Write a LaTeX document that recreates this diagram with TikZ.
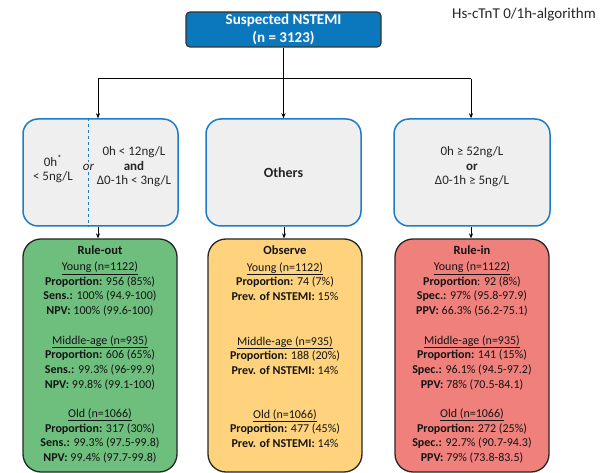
\documentclass[tikz,border=0pt]{standalone}
\usepackage{fontspec}
\setmainfont{Carlito}
\usetikzlibrary{arrows.meta,calc}
\definecolor{topblue}{RGB}{11,120,189}
\definecolor{critblue}{RGB}{28,124,199}
\definecolor{critfill}{RGB}{239,239,239}
\definecolor{outgreen}{RGB}{110,191,125}
\definecolor{obsyellow}{RGB}{255,211,125}
\definecolor{inred}{RGB}{240,128,123}
\definecolor{txt}{RGB}{20,20,20}
\begin{document}
\begin{tikzpicture}[x=1pt,y=-1pt,
  topbox/.style={draw=black!80, line width=1.2pt, fill=topblue, rounded corners=4pt,
    text=white, font=\fontsize{15}{18}\selectfont\bfseries, align=center, inner sep=0pt},
  critbox/.style={draw=critblue, line width=1.5pt, fill=critfill, rounded corners=15pt, inner sep=0pt},
  resbox/.style={draw=black!85, line width=1.3pt, rounded corners=18pt, inner sep=0pt},
  crittext/.style={text=black!85, font=\fontsize{13}{14.5}\selectfont, align=center, inner sep=0pt},
  grp/.style={text=txt, font=\fontsize{12}{14.7}\selectfont, align=center, inner sep=0pt},
  hdr/.style={text=txt, font=\fontsize{12.5}{14}\selectfont\bfseries, inner sep=0pt},
  arr/.style={-{Stealth[length=5pt,width=4pt]}, line width=0.6pt, black},
  conn/.style={line width=0.6pt, black}]
\useasboundingbox (0,0) rectangle (611,473);

% top
\node[topbox, minimum width=195pt, minimum height=35pt] (top) at (283.5,29.5) {Suspected NSTEMI\\(n = 3123)};
\node[anchor=west, text=black!85, font=\fontsize{15}{17}\selectfont, inner sep=0pt] (title) at (452,15) {Hs-cTnT 0/1h-algorithm};

% criteria boxes
\node[critbox, minimum width=155pt, minimum height=107pt] (c1) at (100.5,172.5) {};
\node[critbox, minimum width=155pt, minimum height=107pt] (c2) at (283.5,172.5) {};
\node[critbox, minimum width=156pt, minimum height=107pt] (c3) at (472,172.5) {};

\draw[critblue, dashed, line width=0.8pt] ($(c1.north west)!0.42!(c1.north east)$) coordinate (dtop)
   -- ($(c1.south west)!0.42!(c1.south east)$) coordinate (dbot);
\node[crittext] (c1a) at (53,169) {0h\textsuperscript{*}\\< 5ng/L};
\node[crittext, fill=critfill, inner sep=1.5pt, font=\fontsize{13}{14.5}\selectfont\itshape] (c1or) at (88.5,167) {or};
\node[crittext] (c1b) at (134,167) {0h < 12ng/L\\\textbf{and}\\Δ0-1h < 3ng/L};
\node[crittext, font=\fontsize{14}{14.5}\selectfont\bfseries] (c2t) at (c2) {Others};
\node[crittext] (c3t) at (472,167) {0h ≥ 52ng/L\\\textbf{or}\\Δ0-1h ≥ 5ng/L};

% result boxes
\node[resbox, fill=outgreen, minimum width=154pt, minimum height=233pt] (r1) at (100,355.5) {};
\node[resbox, fill=obsyellow, minimum width=154pt, minimum height=233pt] (r2) at (285,355.5) {};
\node[resbox, fill=inred, minimum width=154pt, minimum height=233pt] (r3) at (472,355.5) {};

% connectors
\draw[conn] (top.south) -- ++(0,31) coordinate (split);
\draw[conn] (split -| 98,0) coordinate (sl) -- (split -| 471,0) coordinate (sr);
\draw[arr] (sl) -- (sl |- c1.north);
\draw[arr] (split) -- (split |- c2.north);
\draw[arr] (sr) -- (sr |- c3.north);
\draw[arr] (98,0 |- c1.south) coordinate (d1) -- (d1 |- r1.north);
\draw[arr] (284,0 |- c2.south) coordinate (d2) -- (d2 |- r2.north);
\draw[arr] (471,0 |- c3.south) coordinate (d3) -- (d3 |- r3.north);

% rule-out texts
\node[hdr] (h1) at (100,250) {Rule-out};
\node[grp] (g1a) at (100,289) {\underline{Young (n=1122)}\\\textbf{Proportion:} 956 (85\%)\\\textbf{Sens.:} 100\% (94.9-100)\\\textbf{NPV:} 100\% (99.6-100)};
\node[grp] (g1b) at (100,362.5) {\underline{Middle-age (n=935)}\\\textbf{Proportion:} 606 (65\%)\\\textbf{Sens.:} 99.3\% (96-99.9)\\\textbf{NPV:} 99.8\% (99.1-100)};
\node[grp] (g1c) at (100,436) {\underline{Old (n=1066)}\\\textbf{Proportion:} 317 (30\%)\\\textbf{Sens.:} 99.3\% (97.5-99.8)\\\textbf{NPV:} 99.4\% (97.7-99.8)};

% observe texts
\node[hdr] (h2) at (285,250) {Observe};
\node[grp] (g2a) at (285,281.5) {\underline{Young (n=1122)}\\\textbf{Proportion:} 74 (7\%)\\\textbf{Prev. of NSTEMI:} 15\%};
\node[grp] (g2b) at (285,355.5) {\underline{Middle-age (n=935)}\\\textbf{Proportion:} 188 (20\%)\\\textbf{Prev. of NSTEMI:} 14\%};
\node[grp] (g2c) at (285,428.5) {\underline{Old (n=1066)}\\\textbf{Proportion:} 477 (45\%)\\\textbf{Prev. of NSTEMI:} 14\%};

% rule-in texts
\node[hdr] (h3) at (472,250) {Rule-in};
\node[grp] (g3a) at (472,289) {\underline{Young (n=1122)}\\\textbf{Proportion}: 92 (8\%)\\\textbf{Spec.:} 97\% (95.8-97.9)\\\textbf{PPV:} 66.3\% (56.2-75.1)};
\node[grp] (g3b) at (472,362.5) {\underline{Middle-age (n=935)}\\\textbf{Proportion:} 141 (15\%)\\\textbf{Spec.:} 96.1\% (94.5-97.2)\\\textbf{PPV:} 78\% (70.5-84.1)};
\node[grp] (g3c) at (472,436) {\underline{Old (n=1066)}\\\textbf{Proportion:} 272 (25\%)\\\textbf{Spec.:} 92.7\% (90.7-94.3)\\\textbf{PPV:} 79\% (73.8-83.5)};
\end{tikzpicture}
\end{document}
